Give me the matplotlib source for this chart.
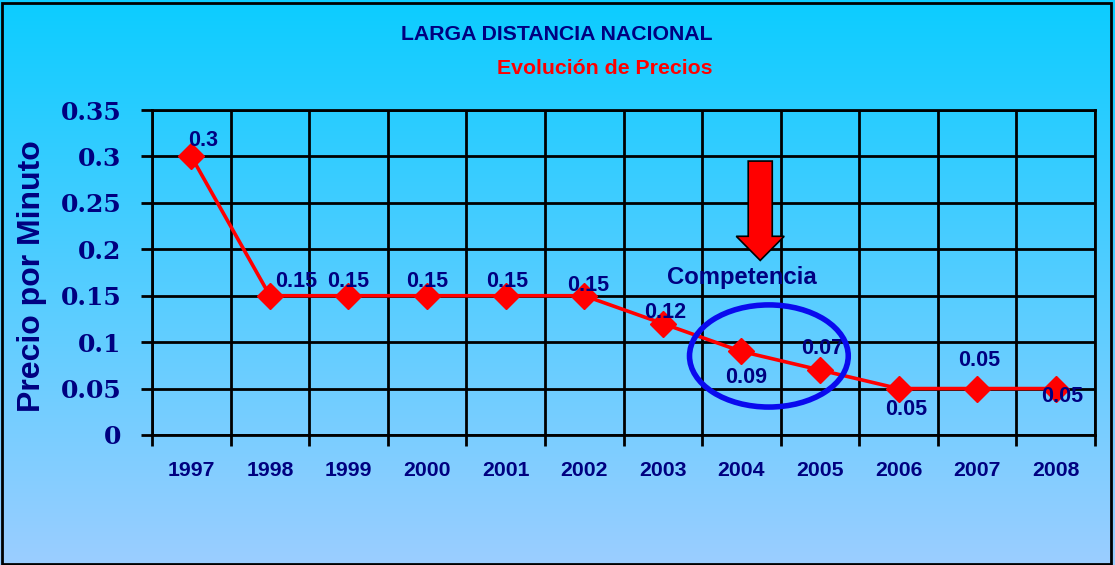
import numpy as np
import matplotlib
matplotlib.use("Agg")
import matplotlib.pyplot as plt
from matplotlib.patches import Ellipse, Polygon, Rectangle

years = ["1997", "1998", "1999", "2000", "2001", "2002", "2003", "2004", "2005", "2006", "2007", "2008"]
prices = [0.30, 0.15, 0.15, 0.15, 0.15, 0.15, 0.12, 0.09, 0.07, 0.05, 0.05, 0.05]
price_labels = ["0.3", "0.15", "0.15", "0.15", "0.15", "0.15", "0.12", "0.09", "0.07", "0.05", "0.05", "0.05"]
# label offsets in pixels (dx, dy with y up)
label_offsets = [(12, 16), (26, 14), (0, 14), (0, 14), (2, 14), (4, 10), (2, 11),
                 (5, -26), (2, 22), (8, -21), (2, 28), (6, -8)]
yticks = [0, 0.05, 0.1, 0.15, 0.2, 0.25, 0.3, 0.35]
ytick_labels = ["0", "0.05", "0.1", "0.15", "0.2", "0.25", "0.3", "0.35"]

NAVY = "#000080"
W, H = 1115, 565
fig = plt.figure(figsize=(W / 100, H / 100), dpi=100)

# gradient background
bg = fig.add_axes([0, 0, 1, 1], zorder=-10)
top = np.array([12, 204, 255]) / 255
bot = np.array([155, 206, 255]) / 255
t = np.linspace(0, 1, 256)[:, None]
grad = (top[None, :] * (1 - t) + bot[None, :] * t)[:, None, :]
bg.imshow(grad, aspect="auto", extent=[0, 1, 0, 1], origin="upper")
bg.set_axis_off()
bg.add_patch(Rectangle((0.002, 0.002), 0.994, 0.992, transform=bg.transAxes,
                       fill=False, edgecolor="black", lw=2))

x0, x1 = 152 / W, 1095 / W
y0, y1 = 1 - 435 / H, 1 - 110 / H
ax = fig.add_axes([x0, y0, x1 - x0, y1 - y0])
ax.patch.set_alpha(0)

x = np.arange(len(years))
ax.plot(x, prices, color="#ff0000", lw=2.6, marker="D", markersize=13,
        markerfacecolor="#ff0000", markeredgecolor="#ff0000", zorder=5, clip_on=False)

ax.set_xlim(-0.5, len(years) - 0.5)
ax.set_ylim(0, 0.35)
ax.set_yticks(yticks)
ax.set_yticklabels(ytick_labels, fontfamily="DejaVu Serif", fontweight="bold",
                   fontsize=18, color=NAVY)
ax.set_xticks(np.arange(-0.5, len(years) + 0.5, 1))
ax.set_xticklabels([])
ax.set_xticks(x, minor=True)
ax.set_xticklabels(years, minor=True, fontfamily="Liberation Sans", fontweight="bold",
                   fontsize=15.3, color=NAVY)
ax.tick_params(axis="x", which="minor", length=0, pad=19)
ax.tick_params(axis="x", which="major", length=8, width=2, color="black")
ax.tick_params(axis="y", length=8, width=2, color="black", pad=14)
ax.grid(True, which="major", color="black", lw=2)
ax.set_axisbelow(True)
for s in ax.spines.values():
    s.set_linewidth(2)
    s.set_color("black")

for xi, yi, lab, (dx, dy) in zip(x, prices, price_labels, label_offsets):
    ax.annotate(lab, (xi, yi), xytext=(dx * 0.72, dy * 0.72), textcoords="offset points",
                ha="center", va="center", fontfamily="Liberation Sans", fontweight="bold",
                fontsize=15.5, color=NAVY, zorder=6)

fig.text(32 / W, 1 - 276 / H, "Precio por Minuto", rotation=90, ha="center", va="center",
         fontfamily="Liberation Sans", fontweight="bold", fontsize=23, color=NAVY)
fig.text(557 / W, 1 - 35 / H, "LARGA DISTANCIA NACIONAL", ha="center", va="center",
         fontfamily="Liberation Sans", fontweight="bold", fontsize=15.3, color=NAVY)
fig.text(605 / W, 1 - 68 / H, "Evolución de Precios", ha="center", va="center",
         fontfamily="Liberation Sans", fontweight="bold", fontsize=15.3, color="#ff0000")

# annotation: arrow, text and ellipse
ax_x = 7.24
arrow = Polygon([(ax_x - 0.153, 0.295), (ax_x + 0.153, 0.295), (ax_x + 0.153, 0.214),
                 (ax_x + 0.305, 0.214), (ax_x, 0.188), (ax_x - 0.305, 0.214),
                 (ax_x - 0.153, 0.214)], closed=True, facecolor="#ff0000",
                edgecolor="black", lw=1.2, zorder=7)
ax.add_patch(arrow)
ax.text(7.01, 0.170, "Competencia", ha="center", va="center", fontfamily="Liberation Sans",
        fontweight="bold", fontsize=17.2, color=NAVY, zorder=7)
ax.add_patch(Ellipse((7.35, 0.0851), 2.02, 0.110, fill=False, edgecolor="#0a0aee",
                     lw=4, zorder=7))

fig.savefig("out.png", dpi=100)
